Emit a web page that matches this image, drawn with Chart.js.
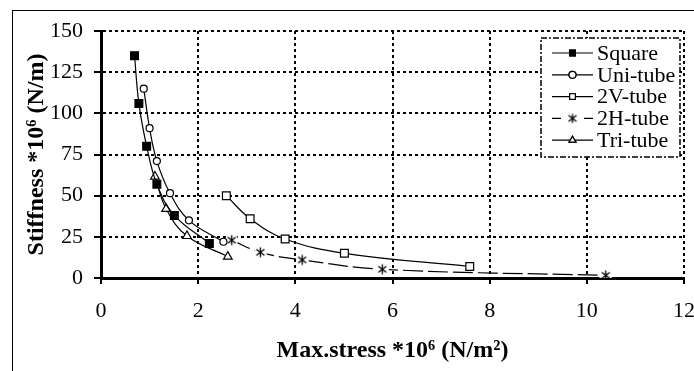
<!DOCTYPE html>
<html>
<head>
<meta charset="utf-8">
<script src="https://cdn.jsdelivr.net/npm/chart.js@4"></script>
<style>
  html, body { margin: 0; padding: 0; background: #fff; }
  #wrap { width: 694px; height: 371px; }
</style>
</head>
<body>
<div id="wrap"><canvas id="stiffChart"></canvas></div>
<script>
// values
const seriesNames = ['Square', 'Uni-tube', '2V-tube', '2H-tube', 'Tri-tube'];

const squareX = [0.69, 0.78, 0.94, 1.15, 1.51, 2.23];
const squareY = [135, 106, 80, 57, 38, 21];

const uniX = [0.88, 1.00, 1.15, 1.42, 1.81, 2.52];
const uniY = [115, 91, 71, 51.5, 35, 22];

const v2X = [2.58, 3.07, 3.79, 5.01, 7.59];
const v2Y = [50, 36, 23.7, 15, 7];

const h2X = [2.69, 3.28, 4.14, 5.79, 10.39];
const h2Y = [23, 15.6, 11, 5.3, 1.6];

const triX = [1.11, 1.34, 1.77, 2.61];
const triY = [61.6, 42, 25.5, 13];

const xTicks = [0, 2, 4, 6, 8, 10, 12];
const yTicks = [0, 25, 50, 75, 100, 125, 150];

const SERIF = '"Liberation Serif", "Times New Roman", serif';

function toPoints(xs, ys) {
  return xs.map((x, i) => ({ x: x, y: ys[i] }));
}

// asterisk marker (x with a vertical bar), white behind it
function makeAsterisk(s) {
  const c = document.createElement('canvas');
  c.width = s; c.height = s;
  const g = c.getContext('2d');
  const m = s / 2;
  g.fillStyle = '#fff';
  g.beginPath(); g.arc(m, m, m, 0, Math.PI * 2); g.fill();
  g.strokeStyle = '#000';
  g.lineWidth = 1.3;
  g.beginPath();
  g.moveTo(m, 1.5); g.lineTo(m, s - 1.5);
  g.moveTo(m - 4, m - 3); g.lineTo(m + 4, m + 3);
  g.moveTo(m + 4, m - 3); g.lineTo(m - 4, m + 3);
  g.stroke();
  return c;
}
const asterisk = makeAsterisk(13);
const asteriskSmall = makeAsterisk(12);

function series(label, xs, ys, style, extra) {
  return Object.assign({
    label: label,
    data: toPoints(xs, ys),
    showLine: true,
    borderColor: '#000',
    borderWidth: 1.2,
    tension: 0.4,
    pointStyle: style,
    pointRadius: 4,
    pointBorderColor: '#000',
    pointBackgroundColor: '#fff',
    pointBorderWidth: 1.2,
  }, extra || {});
}

const datasets = [
  series(seriesNames[0], squareX, squareY, 'rect', { pointRadius: 5.5, pointBackgroundColor: '#000' }),
  series(seriesNames[1], uniX, uniY, 'circle', { pointRadius: 3.5 }),
  series(seriesNames[2], v2X, v2Y, 'rect', { pointRadius: 5.5 }),
  series(seriesNames[3], h2X, h2Y, asterisk, { borderDash: [20, 5] }),
  series(seriesNames[4], triX, triY, 'triangle', { pointRadius: 5 }),
];

// legend drawn inside the plot, line sample with marker in the middle
const boxLegend = {
  id: 'boxLegend',
  afterDraw(chart) {
    const ctx = chart.ctx;
    const area = chart.chartArea;
    const right = area.right - 4, top = area.top + 7;
    const w = 139, h = 119;
    const left = right - w;
    ctx.save();
    ctx.fillStyle = '#fff';
    ctx.fillRect(left, top, w, h);
    ctx.setLineDash([6, 2, 2, 2]);
    ctx.lineWidth = 1.5;
    ctx.strokeStyle = '#000';
    ctx.strokeRect(left, top, w, h);
    ctx.setLineDash([]);
    ctx.font = '22px ' + SERIF;
    ctx.textBaseline = 'middle';
    ctx.fillStyle = '#000';
    chart.data.datasets.forEach((ds, i) => {
      const y = top + 15 + i * 21.8;
      const x0 = left + 11, x1 = left + 52, xm = (x0 + x1) / 2;
      ctx.lineWidth = 1.2;
      ctx.strokeStyle = '#000';
      if (ds.borderDash) {
        ctx.beginPath(); ctx.moveTo(x0, y); ctx.lineTo(x0 + 9, y);
        ctx.moveTo(x1 - 9, y); ctx.lineTo(x1, y); ctx.stroke();
      } else {
        ctx.beginPath(); ctx.moveTo(x0, y); ctx.lineTo(x1, y); ctx.stroke();
      }
      if (ds.pointStyle === asterisk) {
        ctx.drawImage(asteriskSmall, xm - 6, y - 6);
      } else {
        Chart.helpers.drawPoint(ctx, {
          pointStyle: ds.pointStyle,
          radius: Math.min(ds.pointRadius, 4),
          borderWidth: 1.2,
        }, xm, y);
        ctx.fillStyle = ds.pointBackgroundColor;
        ctx.strokeStyle = '#000';
        ctx.lineWidth = 1.2;
        ctx.fill(); ctx.stroke();
      }
      ctx.fillStyle = '#000';
      ctx.fillText(ds.label, left + 56, y + 1);
    });
    ctx.restore();
  }
};

// frame round the whole picture (right and bottom sides fall outside)
const frame = {
  id: 'frame',
  afterDraw(chart) {
    const ctx = chart.ctx;
    ctx.save();
    ctx.strokeStyle = '#000';
    ctx.lineWidth = 1;
    ctx.strokeRect(12.5, 10.5, 690, 370);
    ctx.restore();
  }
};

const ctx = document.getElementById('stiffChart').getContext('2d');
new Chart(ctx, {
  type: 'scatter',
  data: { datasets: datasets },
  options: {
    responsive: true,
    maintainAspectRatio: false,
    animation: false,
    layout: { padding: { left: 14, right: 10, top: 31, bottom: 8 } },
    plugins: {
      legend: { display: false },
      tooltip: { enabled: false },
    },
    scales: {
      x: {
        type: 'linear',
        min: 0, max: 12,
        afterBuildTicks: (scale) => { scale.ticks = xTicks.map(v => ({ value: v })); },
        afterFit: (scale) => {
          scale.height = 85;
          scale.paddingLeft = 0;
          scale.paddingRight = 0;
        },
        ticks: {
          color: '#000',
          font: { family: SERIF, size: 22 },
          padding: 14,
          maxRotation: 0,
        },
        grid: {
          color: '#000',
          lineWidth: 2,
          drawTicks: true,
          tickLength: 6,
          tickWidth: 2,
          tickColor: '#000',
        },
        border: { display: true, color: '#000', width: 3, dash: [3, 3] },
        title: {
          display: true,
          text: 'Max.stress *10⁶ (N/m²)',
          color: '#000',
          font: { family: SERIF, size: 24, weight: 'bold', lineHeight: 1 },
          padding: 0,
        },
      },
      y: {
        type: 'linear',
        min: 0, max: 150,
        afterBuildTicks: (scale) => { scale.ticks = yTicks.map(v => ({ value: v })); },
        afterFit: (scale) => {
          scale.width = 87;
          scale.paddingTop = 0;
          scale.paddingBottom = 0;
        },
        ticks: {
          color: '#000',
          font: { family: SERIF, size: 22 },
          padding: 11,
        },
        grid: {
          color: '#000',
          lineWidth: 2,
          drawTicks: true,
          tickLength: 7,
          tickWidth: 2,
          tickColor: '#000',
        },
        border: { display: true, color: '#000', width: 3, dash: [3, 3] },
        title: {
          display: true,
          text: 'Stiffness *10⁶ (N/m)',
          color: '#000',
          font: { family: SERIF, size: 24, weight: 'bold', lineHeight: 1 },
          padding: 11,
        },
      },
    },
  },
  plugins: [boxLegend, frame],
});
</script>
</body>
</html>
